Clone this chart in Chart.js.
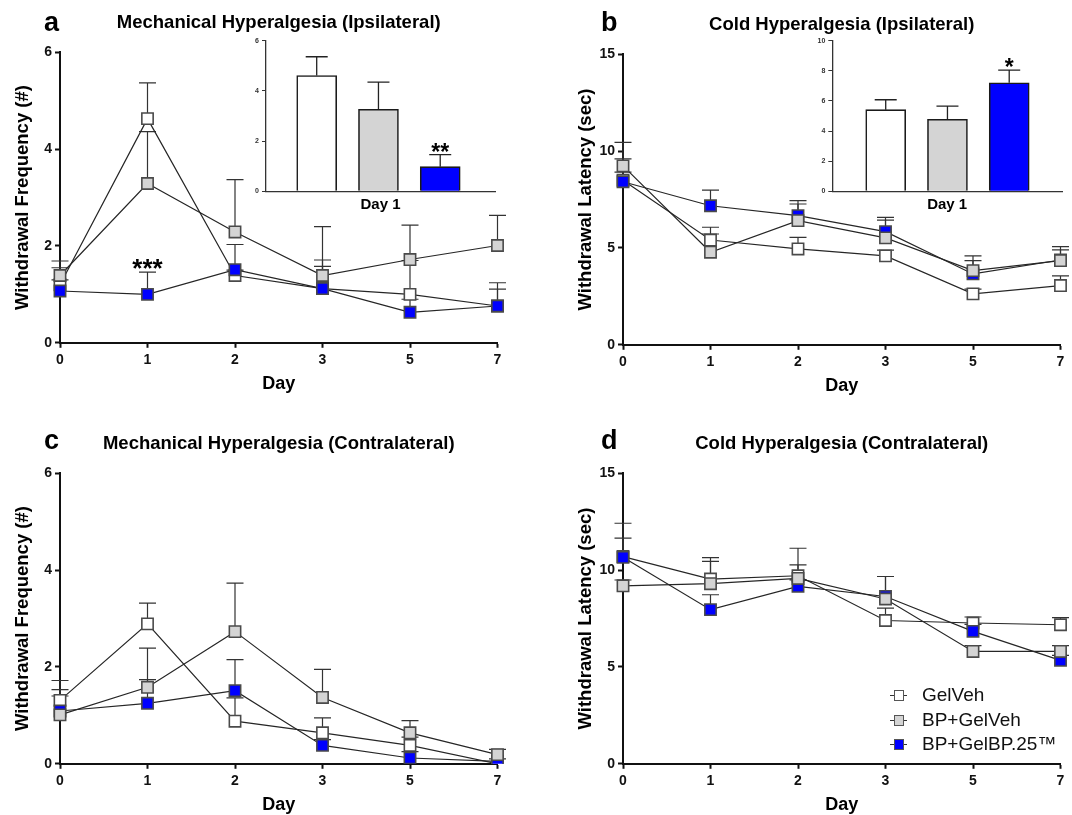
<!DOCTYPE html>
<html>
<head>
<meta charset="utf-8">
<script src="https://cdn.jsdelivr.net/npm/chart.js@4.4.0/dist/chart.umd.min.js"></script>
<style>
  body { margin: 0; background: #fff; width: 1072px; height: 815px; position: relative; overflow: hidden;
         font-family: "Liberation Sans", Arial, sans-serif; }
  canvas { position: absolute; }
  .letter { position: absolute; font-size: 27px; font-weight: bold; line-height: 1; color: #000; }
  .lg { position: absolute; left: 890px; height: 22px; line-height: 22px; font-size: 19px; color: #111; white-space: nowrap; }
  .sym { position: relative; display: inline-block; width: 17px; height: 22px; margin-right: 15px; vertical-align: top; }
  .sym::before { content: ''; position: absolute; left: 0; right: 0; top: 11px; border-top: 1.2px solid #333; }
  .sq { position: absolute; left: 3.5px; top: 6px; width: 10.5px; height: 10.5px; border: 1.4px solid #555; box-sizing: border-box; }
</style>
</head>
<body>
<canvas id="pa" width="536" height="415" style="left:0;top:0"></canvas>
<canvas id="pb" width="536" height="415" style="left:563px;top:2px"></canvas>
<canvas id="pc" width="536" height="415" style="left:0;top:421px"></canvas>
<canvas id="pd" width="536" height="415" style="left:563px;top:421px"></canvas>
<canvas id="ia" width="275" height="190" style="left:230px;top:30px"></canvas>
<canvas id="ib" width="280" height="190" style="left:790px;top:30px"></canvas>

<div class="letter" style="left:44px;top:9px">a</div>
<div class="letter" style="left:601px;top:9px">b</div>
<div class="letter" style="left:44px;top:427px">c</div>
<div class="letter" style="left:601px;top:427px">d</div>

<div class="lg" style="top:684px"><span class="sym"><span class="sq" style="background:#ffffff"></span></span><span id="l0"></span></div>
<div class="lg" style="top:709px"><span class="sym"><span class="sq" style="background:#d4d4d4"></span></span><span id="l1"></span></div>
<div class="lg" style="top:733px"><span class="sym"><span class="sq" style="background:#0000ff"></span></span><span id="l2"></span></div>

<script>
var FONT = '"Liberation Sans", Arial, sans-serif';

var days = ['0', '1', '2', '3', '5', '7'];
var groups = ['GelVeh', 'BP+GelVeh', 'BP+GelBP.25™'];
var fills = ['#ffffff', '#d4d4d4', '#0000ff'];

// a - mechanical hyperalgesia, ipsilateral (mean, SEM)
var mechIpsiVeh = [1.20, 4.63, 1.39, 1.12, 1.00, 0.76];
var mechIpsiVehSem = [0.35, 0.74, 0.11, 0.59, 0.70, 0.35];
var mechIpsiBp = [1.39, 3.29, 2.29, 1.39, 1.72, 2.01];
var mechIpsiBpSem = [0.30, 1.07, 1.08, 1.01, 0.71, 0.62];
var mechIpsiGel = [1.07, 1.00, 1.51, 1.12, 0.63, 0.76];
var mechIpsiGelSem = [0.23, 0.46, 0.52, 0.46, 0.27, 0.48];
var mechIpsiStars = ['', '***', '', '', '', ''];

// b - cold hyperalgesia, ipsilateral
var coldIpsiVeh = [8.50, 5.41, 4.95, 4.59, 2.63, 3.06];
var coldIpsiVehSem = [1.10, 0.66, 0.60, 0.30, 0.24, 0.50];
var coldIpsiBp = [9.24, 4.78, 6.41, 5.52, 3.83, 4.35];
var coldIpsiBpSem = [1.21, 0.94, 0.86, 0.92, 0.76, 0.72];
var coldIpsiGel = [8.42, 7.18, 6.67, 5.84, 3.66, 4.38];
var coldIpsiGelSem = [0.50, 0.81, 0.77, 0.74, 0.69, 0.52];

// c - mechanical hyperalgesia, contralateral
var mechContraVeh = [1.31, 2.89, 0.88, 0.64, 0.38, 0.00];
var mechContraVehSem = [0.41, 0.43, 0.48, 0.31, 0.17, 0.00];
var mechContraBp = [1.01, 1.58, 2.73, 1.37, 0.64, 0.19];
var mechContraBpSem = [0.52, 0.81, 1.00, 0.58, 0.25, 0.11];
var mechContraGel = [1.09, 1.25, 1.51, 0.38, 0.12, 0.05];
var mechContraGelSem = [0.31, 0.49, 0.64, 0.12, 0.13, 0.05];

// d - cold hyperalgesia, contralateral
var coldContraVeh = [10.70, 9.54, 9.71, 7.40, 7.27, 7.18];
var coldContraVehSem = [1.72, 1.11, 1.42, 0.64, 0.31, 0.37];
var coldContraBp = [9.19, 9.30, 9.57, 8.51, 5.80, 5.80];
var coldContraBpSem = [0.30, 1.15, 0.70, 1.16, 0.30, 0.30];
var coldContraGel = [10.66, 7.96, 9.16, 8.64, 6.84, 5.34];
var coldContraGelSem = [0.99, 0.77, 0.34, 1.03, 0.36, 0.26];

// insets - day 1
var day1Mech = [4.61, 3.27, 0.98];
var day1MechSem = [0.75, 1.08, 0.48];
var day1MechStars = ['', '', '**'];
var day1Cold = [5.42, 4.78, 7.21];
var day1ColdSem = [0.66, 0.88, 0.84];
var day1ColdStars = ['', '', '*'];

// upper-only error bars, drawn under the markers
var errorBars = {
    id: 'errorBars',
    beforeDatasetsDraw: function (chart, args, opts) {
        var ctx = chart.ctx;
        ctx.save();
        ctx.strokeStyle = opts.color;
        ctx.lineWidth = opts.width;
        chart.data.datasets.forEach(function (ds, i) {
            if (!ds.sem) return;
            var meta = chart.getDatasetMeta(i);
            var yScale = chart.scales[meta.yAxisID];
            meta.data.forEach(function (el, j) {
                var v = meta.controller.getParsed(j).y;
                if (!ds.sem[j]) return;
                var top = yScale.getPixelForValue(v + ds.sem[j]);
                ctx.beginPath();
                ctx.moveTo(el.x, el.y);
                ctx.lineTo(el.x, top);
                ctx.moveTo(el.x - opts.cap, top);
                ctx.lineTo(el.x + opts.cap, top);
                ctx.stroke();
            });
        });
        ctx.restore();
    }
};

// significance stars above the error bars
var stars = {
    id: 'stars',
    afterDatasetsDraw: function (chart, args, opts) {
        var ctx = chart.ctx;
        ctx.save();
        ctx.fillStyle = '#000';
        ctx.font = 'bold ' + opts.size + 'px ' + FONT;
        ctx.textAlign = 'center';
        ctx.textBaseline = 'alphabetic';
        chart.data.datasets.forEach(function (ds, i) {
            if (!ds.stars) return;
            var meta = chart.getDatasetMeta(i);
            var yScale = chart.scales[meta.yAxisID];
            meta.data.forEach(function (el, j) {
                if (!ds.stars[j]) return;
                var v = meta.controller.getParsed(j).y + (ds.sem ? ds.sem[j] : 0);
                var y = yScale.getPixelForValue(v) - opts.gap + 0.56 * opts.size;
                ctx.fillText(ds.stars[j], el.x, y);
            });
        });
        ctx.restore();
    }
};

function axisStyle() {
    return {
        grid: { display: true, drawOnChartArea: false, tickLength: 5, tickWidth: 2, tickColor: '#111' },
        border: { display: true, color: '#111', width: 2 }
    };
}

function linePanel(id, title, yTitle, yMax, yStep, means, sems, starList) {
    var order = [2, 0, 1];
    var datasets = groups.map(function (g, k) {
        return {
            label: g,
            data: means[k],
            sem: sems[k],
            stars: k === 2 ? starList : null,
            order: order[k],
            borderColor: '#262626',
            borderWidth: 1.2,
            pointStyle: 'rect',
            pointRadius: 8,
            pointHoverRadius: 8,
            pointBackgroundColor: fills[k],
            pointBorderColor: '#4a4a4a',
            pointBorderWidth: 1.6,
            fill: false,
            tension: 0
        };
    });
    var xs = axisStyle(), ys = axisStyle();
    new Chart(document.getElementById(id), {
        type: 'line',
        data: { labels: days, datasets: datasets },
        plugins: [errorBars, stars],
        options: {
            responsive: false,
            animation: false,
            events: [],
            layout: { padding: { top: 12.2, left: 0, right: 38.5, bottom: 17.2 } },
            plugins: {
                legend: { display: false },
                tooltip: { enabled: false },
                title: {
                    display: true, text: title, fullSize: false, color: '#000',
                    font: { family: FONT, size: 18.5, weight: 'bold' },
                    padding: { top: 0, bottom: 17.9 }
                },
                errorBars: { cap: 8.5, color: '#333', width: 1.2 },
                stars: { size: 26, gap: 10 }
            },
            scales: {
                x: {
                    type: 'category', offset: false,
                    afterFit: function (s) { s.height = 55; },
                    grid: xs.grid, border: xs.border,
                    ticks: { color: '#111', autoSkip: false, maxRotation: 0, padding: 4,
                             font: { family: FONT, size: 14, weight: 'bold' } },
                    title: { display: true, text: 'Day', color: '#000',
                             font: { family: FONT, size: 18, weight: 'bold' }, padding: { top: 0, bottom: 3 } }
                },
                y: {
                    min: 0, max: yMax,
                    afterFit: function (s) { s.width = 60; },
                    grid: ys.grid, border: ys.border,
                    ticks: { stepSize: yStep, color: '#111', padding: 3,
                             font: { family: FONT, size: 14, weight: 'bold' } },
                    title: { display: true, text: yTitle, color: '#000',
                             font: { family: FONT, size: 18.5, weight: 'bold' }, padding: { top: 11.8, bottom: 0 } }
                }
            }
        }
    });
}

function insetPanel(id, values, sems, starList, yMax, yStep, xMin, xMax, yWidth, padRight) {
    new Chart(document.getElementById(id), {
        type: 'bar',
        data: {
            datasets: [{
                data: values.map(function (v, k) { return { x: k + 1, y: v }; }),
                sem: sems,
                stars: starList,
                backgroundColor: fills,
                borderColor: '#1a1a1a',
                borderWidth: 1.6,
                barThickness: 40
            }]
        },
        plugins: [errorBars, stars],
        options: {
            responsive: false,
            animation: false,
            events: [],
            layout: { padding: { top: 10.7, left: 0, right: padRight, bottom: 0 } },
            plugins: {
                legend: { display: false },
                tooltip: { enabled: false },
                errorBars: { cap: 11, color: '#222', width: 1.3 },
                stars: { size: 23, gap: 7.5 }
            },
            scales: {
                x: {
                    type: 'linear', min: xMin, max: xMax, offset: false,
                    afterFit: function (s) { s.height = 28.7; },
                    grid: { display: false, offset: false },
                    border: { display: true, color: '#333', width: 1.3 },
                    ticks: { display: false },
                    title: { display: true, text: 'Day 1', color: '#000',
                             font: { family: FONT, size: 15, weight: 'bold' }, padding: { top: 0, bottom: 6 } }
                },
                y: {
                    min: 0, max: yMax,
                    afterFit: function (s) { s.width = yWidth; },
                    grid: { display: true, drawOnChartArea: false, tickLength: 4, tickWidth: 1, tickColor: '#333' },
                    border: { display: true, color: '#333', width: 1.3 },
                    ticks: { stepSize: yStep, color: '#333', padding: 3,
                             font: { family: FONT, size: 7, weight: 'bold' } }
                }
            }
        }
    });
}

linePanel('pa', 'Mechanical Hyperalgesia (Ipsilateral)', 'Withdrawal Frequency (#)', 6, 2,
    [mechIpsiVeh, mechIpsiBp, mechIpsiGel], [mechIpsiVehSem, mechIpsiBpSem, mechIpsiGelSem], mechIpsiStars);
linePanel('pb', 'Cold Hyperalgesia (Ipsilateral)', 'Withdrawal Latency (sec)', 15, 5,
    [coldIpsiVeh, coldIpsiBp, coldIpsiGel], [coldIpsiVehSem, coldIpsiBpSem, coldIpsiGelSem], null);
linePanel('pc', 'Mechanical Hyperalgesia (Contralateral)', 'Withdrawal Frequency (#)', 6, 2,
    [mechContraVeh, mechContraBp, mechContraGel], [mechContraVehSem, mechContraBpSem, mechContraGelSem], null);
linePanel('pd', 'Cold Hyperalgesia (Contralateral)', 'Withdrawal Latency (sec)', 15, 5,
    [coldContraVeh, coldContraBp, coldContraGel], [coldContraVehSem, coldContraBpSem, coldContraGelSem], null);

insetPanel('ia', day1Mech, day1MechSem, day1MechStars, 6, 2, 0.179, 3.887, 36, 10);
insetPanel('ib', day1Cold, day1ColdSem, day1ColdStars, 10, 2, 0.135, 3.855, 42.3, 8);

groups.forEach(function (g, k) {
    document.getElementById('l' + k).textContent = g;
});
</script>
</body>
</html>
